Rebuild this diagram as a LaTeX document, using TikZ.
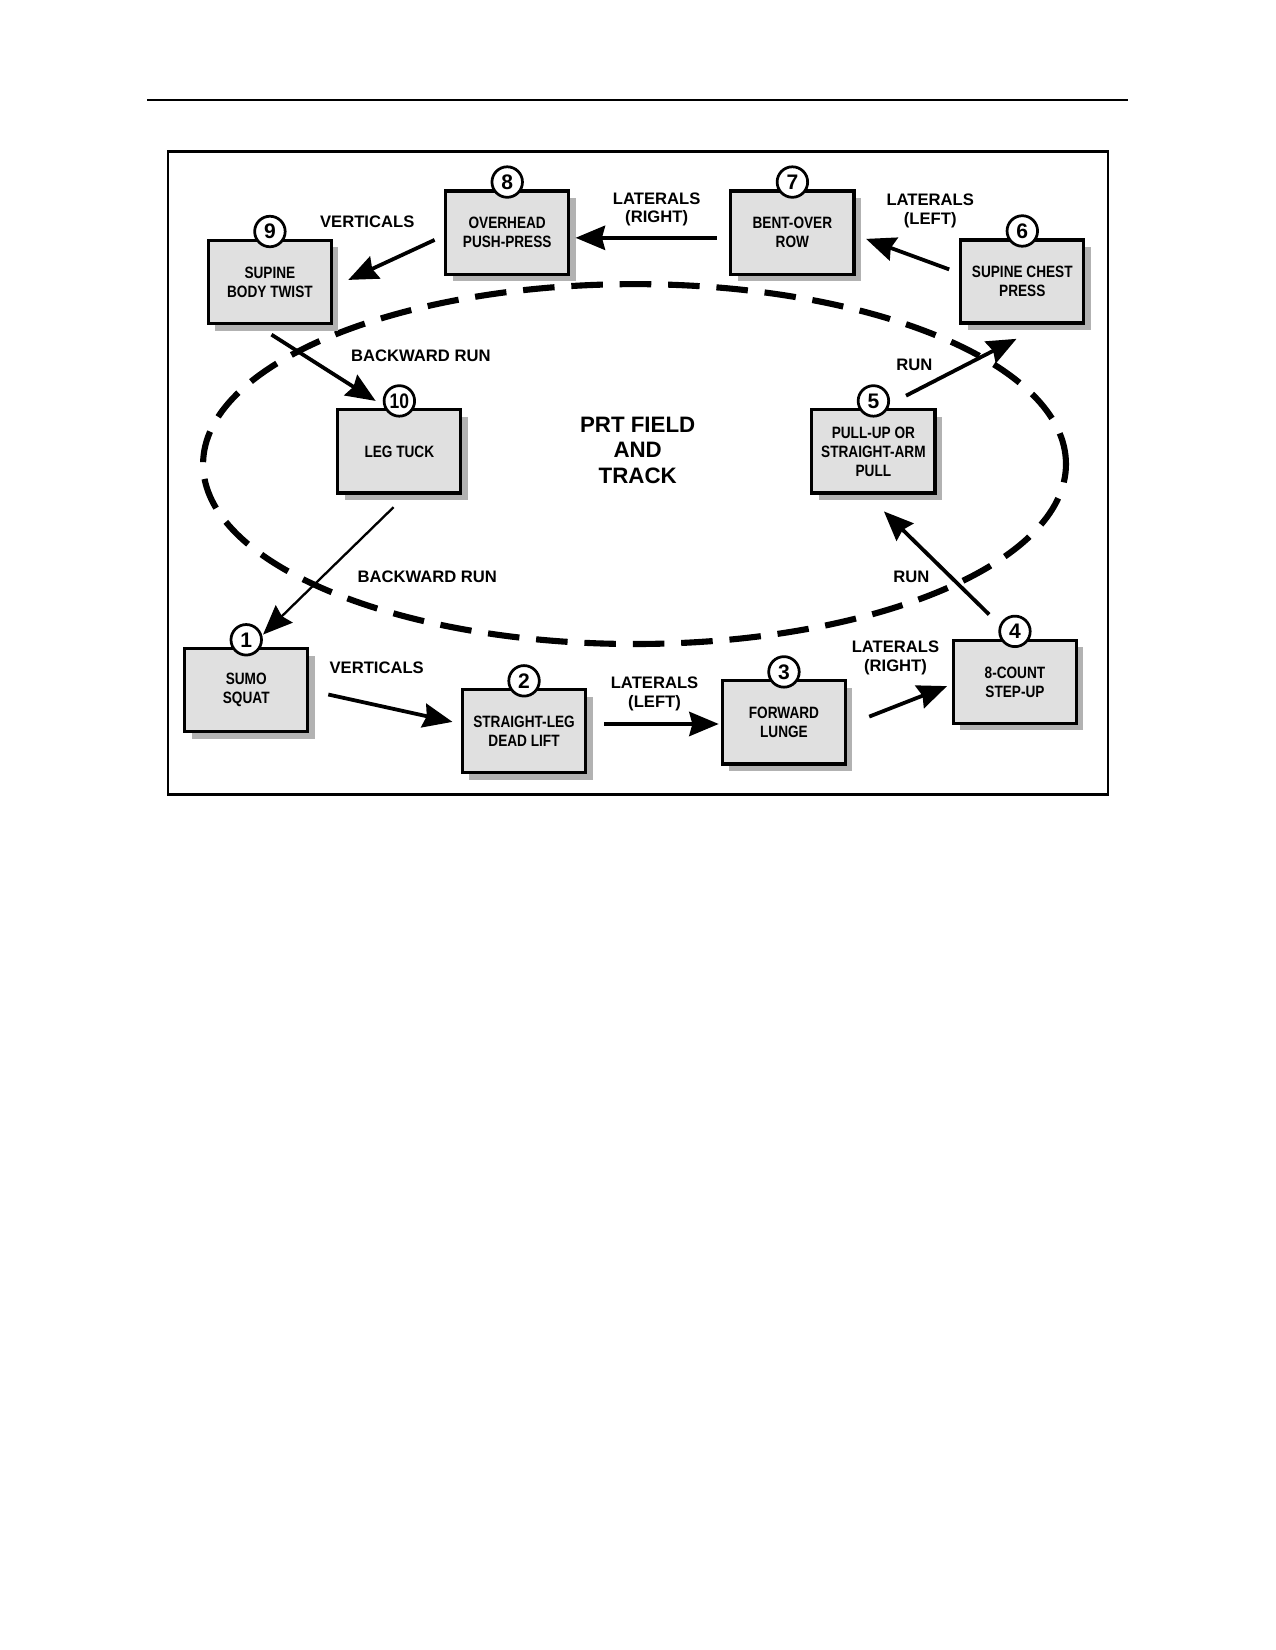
\documentclass[tikz,border=0pt]{standalone}
\usepackage{fontspec}
\setmainfont{Liberation Sans}
\newfontfamily\narrowfont[FakeStretch=0.83]{Liberation Sans}
\usetikzlibrary{arrows.meta,shadows,calc}
\begin{document}
\begin{tikzpicture}[x=0.5pt,y=-0.5pt,
 station/.style={draw, line width=1.5pt, fill=black!12, minimum width=58.5pt, minimum height=39.5pt,
   inner sep=0pt, align=center, font=\narrowfont\bfseries\fontsize{7.8}{9}\selectfont,
   drop shadow={shadow xshift=3.3pt, shadow yshift=-3.3pt, fill=black!30, opacity=1}},
 num/.style={circle, draw, line width=1.3pt, fill=white, minimum size=14.5pt, inner sep=0pt,
   font=\bfseries\fontsize{10}{10}\selectfont},
 num10/.style={num, font=\narrowfont\bfseries\fontsize{10}{10}\selectfont},
 lbl/.style={align=center, font=\bfseries\fontsize{7.9}{9}\selectfont},
 flow/.style={line width=1.8pt, -{Stealth[length=14pt,width=11.5pt,inset=1.5pt]}},
 thinflow/.style={line width=1.1pt, -{Stealth[length=14pt,width=11.5pt,inset=1.5pt]}},
]
\useasboundingbox (0,0) rectangle (1212,1568);
% header rule and frame
\draw[line width=1.2pt] (140,95) -- (1072,95);
\draw[line width=1pt] (160,144) rectangle (1053,755);
% track
\draw[line width=2.9pt, dash pattern=on 15pt off 8pt] (603,441) ellipse [x radius=205pt, y radius=85.5pt];
\node[align=center, font=\bfseries\fontsize{10.6}{12}\selectfont] (field) at (606,428) {PRT FIELD\\AND\\TRACK};
% stations
\node[station] (b1) at (234,656) {SUMO\\SQUAT};
\node[station] (b2) at (498,695) {STRAIGHT-LEG\\DEAD LIFT};
\node[station] (b3) at (745,686.5) {FORWARD\\LUNGE};
\node[station] (b4) at (964.5,648) {8-COUNT\\STEP-UP};
\node[station] (b5) at (830,429) {PULL-UP OR\\STRAIGHT-ARM\\PULL};
\node[station] (b6) at (971.5,267.5) {SUPINE CHEST\\PRESS};
\node[station] (b7) at (753,221) {BENT-OVER\\ROW};
\node[station] (b8) at (482,221) {OVERHEAD\\PUSH-PRESS};
\node[station] (b9) at (256.5,268) {SUPINE\\BODY TWIST};
\node[station] (b10) at (379.5,429) {LEG TUCK};
% numbers
\foreach \i in {1,...,9} {
  \node[num] (n\i) at ($(b\i.north)+(0,-7)$) {\i};
}
\node[num10] (n10) at ($(b10.north)+(0,-7)$) {10};
% connector ends
\coordinate (s9) at (258,318);   \coordinate (e10) at (357,381);
\coordinate (s10) at (374,482);  \coordinate (e1) at (250,603);
\coordinate (s1) at (312,660);   \coordinate (e2) at (430,686);
\coordinate (s2) at (574,688);   \coordinate (e3) at (683,688);
\coordinate (s3) at (826,681);   \coordinate (e4) at (900,652);
\coordinate (s4) at (940,584);   \coordinate (e5) at (840,486);
\coordinate (s5) at (861,376);   \coordinate (e6) at (966,322);
\coordinate (s6) at (902,256);   \coordinate (e7) at (823,227);
\coordinate (s7) at (681,226);   \coordinate (e8) at (547,226);
\coordinate (s8) at (413,228);   \coordinate (e9) at (331,266);
% connectors
\draw[flow] (s9) -- (e10);
\draw[thinflow] (s10) -- (e1);
\draw[flow] (s1) -- (e2);
\draw[flow] (s2) -- (e3);
\draw[flow] (s3) -- (e4);
\draw[flow] (s4) -- (e5);
\draw[flow] (s5) -- (e6);
\draw[flow] (s6) -- (e7);
\draw[flow] (s7) -- (e8);
\draw[flow] (s8) -- (e9);
% labels
\node[lbl] (l910) at (400,338) {BACKWARD RUN};
\node[lbl] (l101) at (406,548) {BACKWARD RUN};
\node[lbl] (l12) at (358,635) {VERTICALS};
\node[lbl] (l23) at (622,659) {LATERALS\\(LEFT)};
\node[lbl] (l34) at (851,625) {LATERALS\\(RIGHT)};
\node[lbl] (l45) at (866,548) {RUN};
\node[lbl] (l56) at (869,347) {RUN};
\node[lbl] (l67) at (884,200) {LATERALS\\(LEFT)};
\node[lbl] (l78) at (624,199) {LATERALS\\(RIGHT)};
\node[lbl] (l89) at (349,211) {VERTICALS};
\end{tikzpicture}
\end{document}
